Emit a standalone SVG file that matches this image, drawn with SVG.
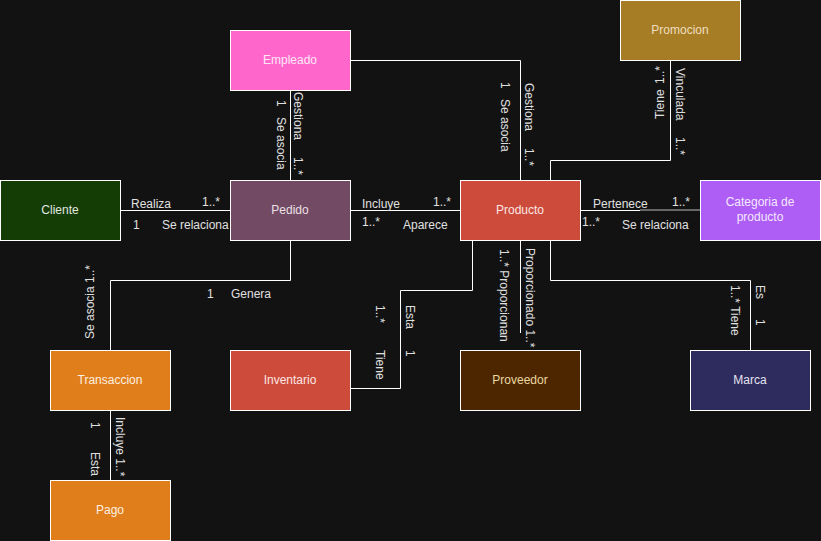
<svg xmlns="http://www.w3.org/2000/svg" width="821" height="541" viewBox="0 0 821 541">
<style>
.n{stroke:#FFFFFF;stroke-width:1}
.t{font-family:"Liberation Sans",Arial,sans-serif;font-size:12px;text-anchor:middle;dominant-baseline:central}
.e{fill:none;stroke:#FFFFFF;stroke-width:1}
.l{font-family:"Liberation Sans",Arial,sans-serif;font-size:12px;fill:#E0E0E0}
</style>
<rect width="821" height="541" fill="#121212"/>
<g id="connectors">
<path class="e" d="M290.5 90V180"/>
<path class="e" d="M350 60.5H520.5V180"/>
<path class="e" d="M670.5 60V160.5H550.5V180"/>
<path class="e" d="M120 210.5H230"/>
<path class="e" d="M350 210.5H460"/>
<path class="e" d="M580 210.5H640"/>
<path class="e" d="M640 210H700" style="stroke:#BBBBBB"/>
<path class="e" d="M290.5 240V280.5H110.5V350"/>
<path class="e" d="M472.5 240V290.5H400.5V388.5H350"/>
<path class="e" d="M520.5 240V333"/>
<path class="e" d="M516 356L519 351"/>
<path class="e" d="M550.5 240V280.5H750.5V350"/>
<path class="e" d="M110.5 410V480"/>
<text class="l" transform="translate(277 100) rotate(90)">1</text>
<text class="l" transform="translate(277 117) rotate(90)">Se asocia</text>
<text class="l" transform="translate(294 92) rotate(90)">Gestiona</text>
<text class="l" transform="translate(294 157) rotate(90)">1..*</text>
<text class="l" transform="translate(501 82) rotate(90)">1</text>
<text class="l" transform="translate(501 99) rotate(90)">Se asocia</text>
<text class="l" transform="translate(525 83) rotate(90)">Gestiona</text>
<text class="l" transform="translate(525 148) rotate(90)">1..*</text>
<text class="l" transform="translate(664 119) rotate(-90)">Tiene</text>
<text class="l" transform="translate(664 84) rotate(-90)">1..*</text>
<text class="l" transform="translate(676 68) rotate(90)">Vinculada</text>
<text class="l" transform="translate(676 137) rotate(90)">1..*</text>
<text class="l" x="131" y="208">Realiza</text>
<text class="l" x="202" y="206">1..*</text>
<text class="l" x="133" y="229">1</text>
<text class="l" x="162" y="229">Se relaciona</text>
<text class="l" x="362" y="208">Incluye</text>
<text class="l" x="433" y="206">1..*</text>
<text class="l" x="362" y="226">1..*</text>
<text class="l" x="403" y="229">Aparece</text>
<text class="l" x="593" y="208">Pertenece</text>
<text class="l" x="672" y="206">1..*</text>
<text class="l" x="582" y="226">1..*</text>
<text class="l" x="622" y="229">Se relaciona</text>
<text class="l" x="207" y="298">1</text>
<text class="l" x="231" y="298">Genera</text>
<text class="l" transform="translate(94 339) rotate(-90)">Se asocia 1..*</text>
<text class="l" transform="translate(376 305) rotate(90)">1..*</text>
<text class="l" transform="translate(376 350) rotate(90)">Tiene</text>
<text class="l" transform="translate(406 305) rotate(90)">Esta</text>
<text class="l" transform="translate(406 350) rotate(90)">1</text>
<text class="l" transform="translate(500 249) rotate(90)">1..* Proporcionan</text>
<text class="l" transform="translate(526 248) rotate(90)">Proporcionado 1..*</text>
<text class="l" transform="translate(731 285) rotate(90)">1..* Tiene</text>
<text class="l" transform="translate(756 285) rotate(90)">Es</text>
<text class="l" transform="translate(756 319) rotate(90)">1</text>
<text class="l" transform="translate(91 422) rotate(90)">1</text>
<text class="l" transform="translate(91 452) rotate(90)">Esta</text>
<text class="l" transform="translate(116 417) rotate(90)">Incluye 1..*</text>
</g>
<g id="promocion"><rect class="n" x="620.5" y="0.5" width="120" height="60" fill="#A67C24"/><text class="t" x="680" y="30" fill="#EEDFC0">Promocion</text></g>
<g id="empleado"><rect class="n" x="230.5" y="30.5" width="120" height="60" fill="#FF66CC"/><text class="t" x="290" y="60" fill="#FFE8F6">Empleado</text></g>
<g id="cliente"><rect class="n" x="0.5" y="180.5" width="120" height="60" fill="#143C05"/><text class="t" x="60" y="210" fill="#E0E8E0">Cliente</text></g>
<g id="pedido"><rect class="n" x="230.5" y="180.5" width="120" height="60" fill="#734A63"/><text class="t" x="290" y="210" fill="#EAE0E6">Pedido</text></g>
<g id="producto"><rect class="n" x="460.5" y="180.5" width="120" height="60" fill="#CC4B3B"/><text class="t" x="520" y="210" fill="#FBE6E2">Producto</text></g>
<g id="categoria"><rect class="n" x="700.5" y="180.5" width="120" height="60" fill="#AE5EF5"/><text class="t" x="760" y="202" fill="#F4E8FE">Categoria de</text><text class="t" x="760" y="217" fill="#F4E8FE">producto</text></g>
<g id="transaccion"><rect class="n" x="50.5" y="350.5" width="120" height="60" fill="#E07E1C"/><text class="t" x="110" y="380" fill="#FDF0E0">Transaccion</text></g>
<g id="inventario"><rect class="n" x="230.5" y="350.5" width="120" height="60" fill="#CC4B3B"/><text class="t" x="290" y="380" fill="#FBE6E2">Inventario</text></g>
<g id="proveedor"><rect class="n" x="460.5" y="350.5" width="120" height="60" fill="#4D2600"/><text class="t" x="520" y="380" fill="#EAD9A0">Proveedor</text></g>
<g id="marca"><rect class="n" x="690.5" y="350.5" width="120" height="60" fill="#2E2B5E"/><text class="t" x="750" y="380" fill="#E4E4F0">Marca</text></g>
<g id="pago"><rect class="n" x="50.5" y="480.5" width="120" height="60" fill="#E07E1C"/><text class="t" x="110" y="510" fill="#FDF0E0">Pago</text></g>
</svg>
